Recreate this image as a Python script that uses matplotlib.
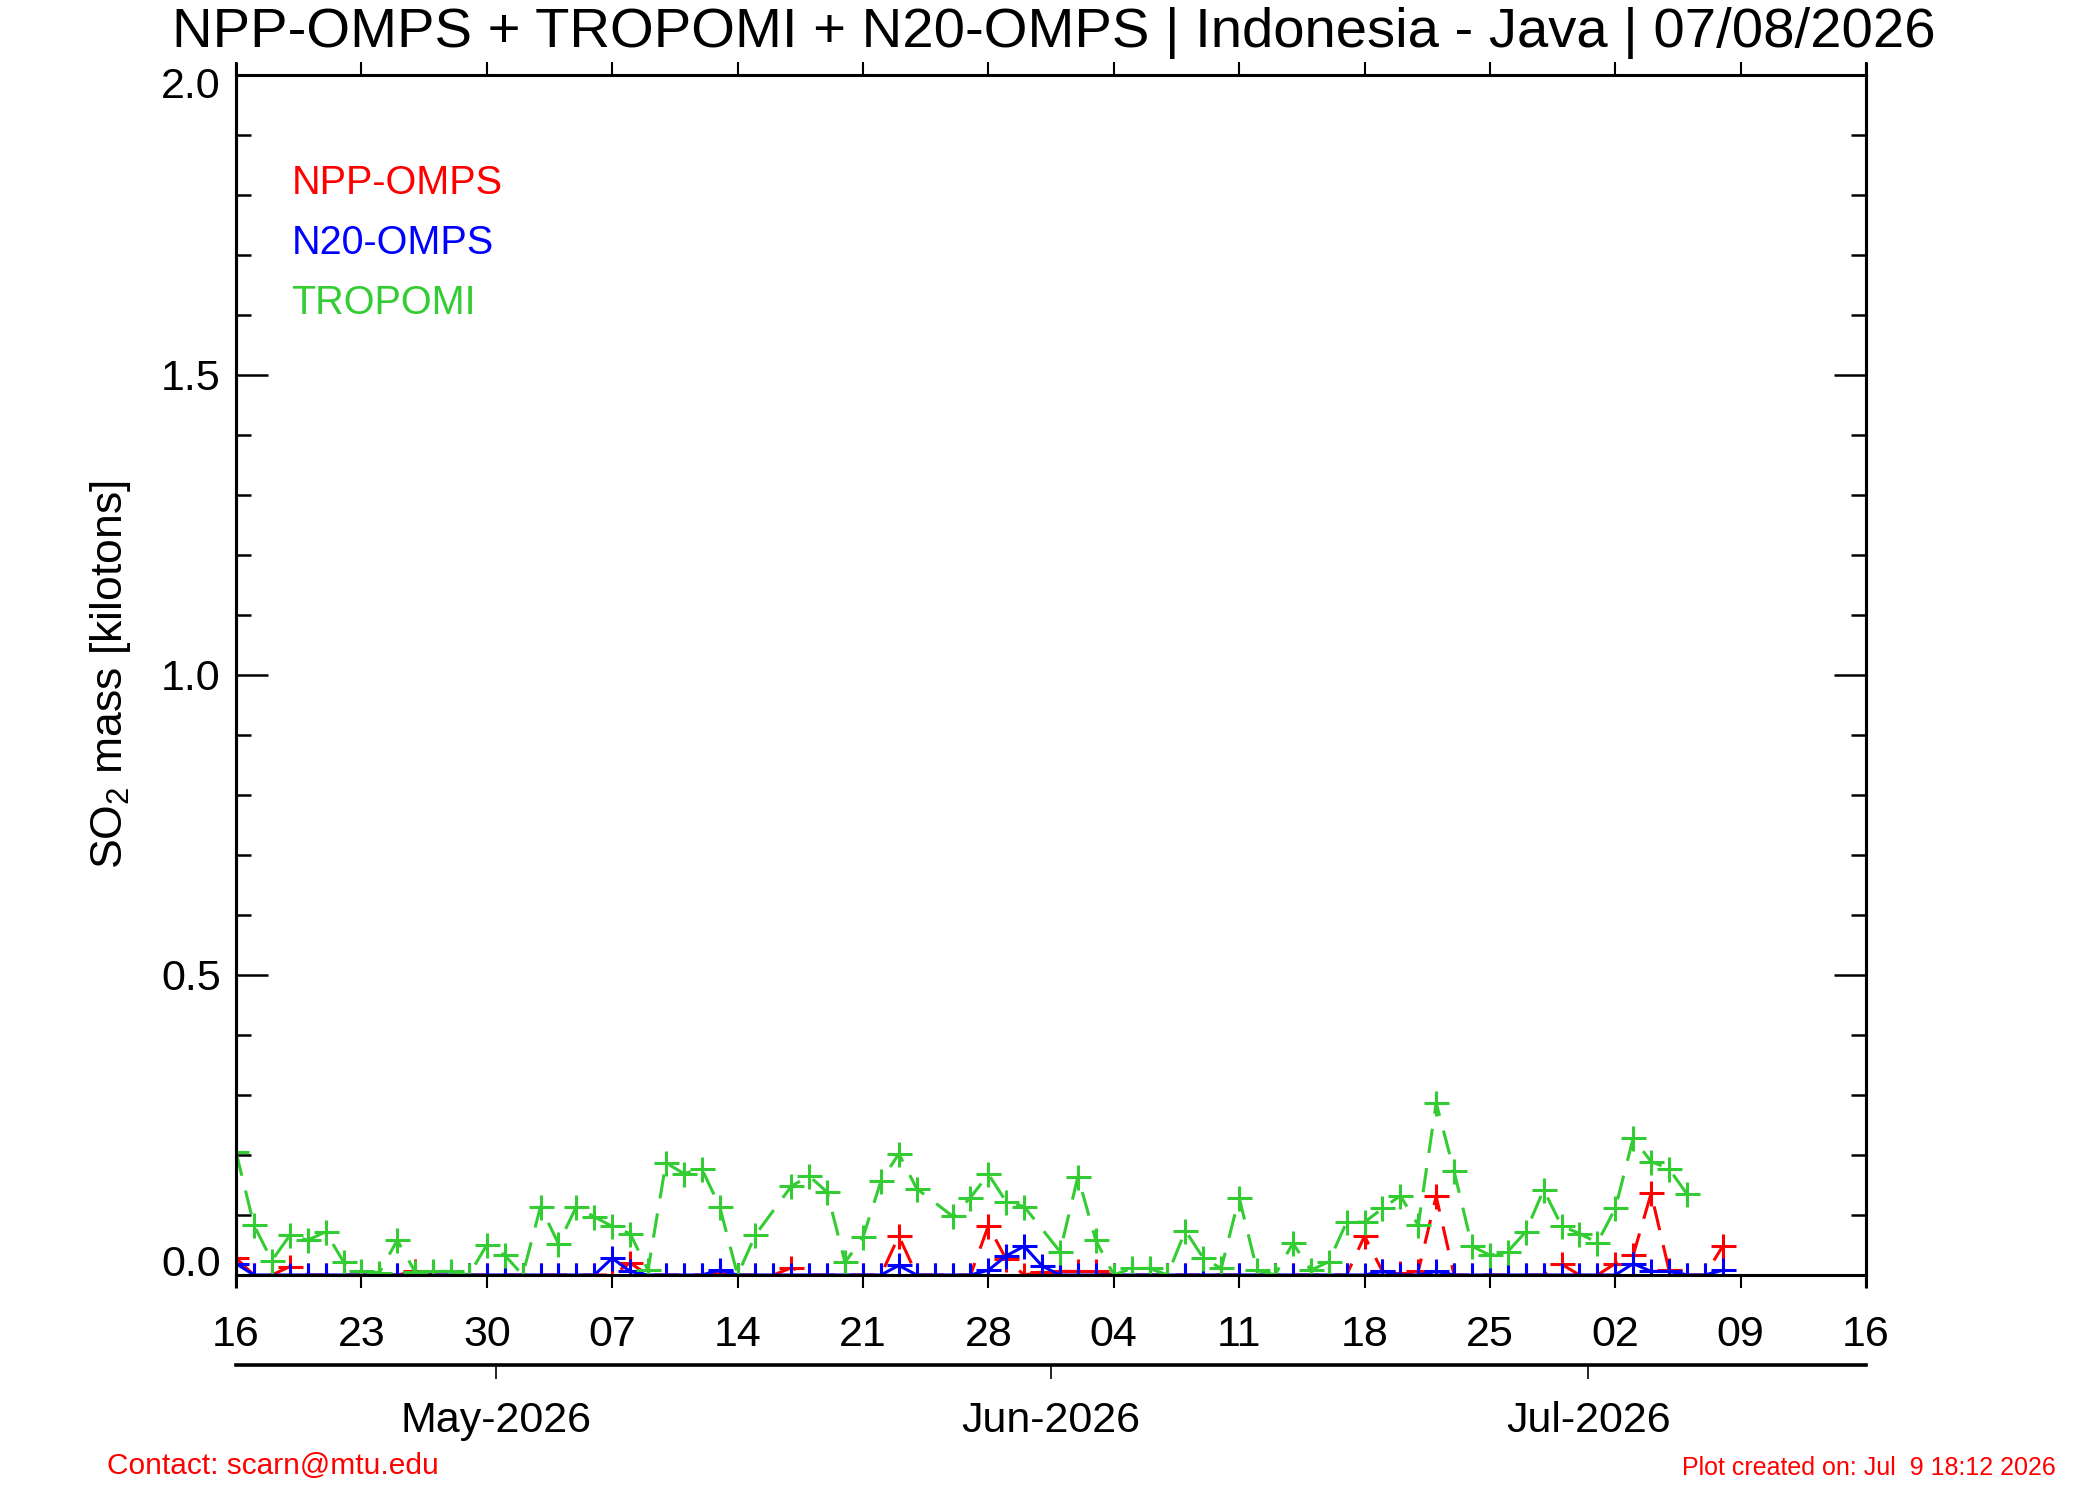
import datetime as dt
import matplotlib
matplotlib.use("Agg")
import matplotlib.pyplot as plt
import matplotlib.dates as mdates
from matplotlib.ticker import FixedLocator, MultipleLocator, FormatStrFormatter
from matplotlib.transforms import ScaledTranslation

plt.rcParams["font.family"] = ["Liberation Sans", "DejaVu Sans"]
plt.rcParams["mathtext.fontset"] = "custom"
plt.rcParams["mathtext.rm"] = "Liberation Sans"

# days counted from 16 Apr 2026, SO2 mass in kilotons
t0 = dt.datetime(2026, 4, 16, 12)
n_days = 91

npp_day = list(range(84))
npp_so2 = [0.028, 0, 0, 0.014, 0, 0, 0, 0, 0, 0,
           0.006, 0, 0, 0, 0, 0, 0, 0, 0, 0,
           0, 0, 0.02, 0, 0, 0, 0, 0.005, 0, 0,
           0, 0.012, 0, 0, 0, 0, 0, 0.065, 0, 0,
           0, 0, 0.082, 0.026, 0, 0.005, 0.006, 0.006, 0.006, 0,
           0, 0, 0, 0, 0, 0, 0, 0, 0, 0,
           0, 0, 0, 0.065, 0.006, 0.004, 0.006, 0.131, 0, 0,
           0, 0, 0, 0, 0.018, 0, 0, 0.019, 0.033, 0.136,
           0.008, 0, 0, 0.048]

n20_day = list(range(84))
n20_so2 = [0.019, 0, 0, 0, 0, 0, 0, 0, 0, 0,
           0, 0, 0, 0, 0, 0, 0, 0, 0, 0,
           0, 0.028, 0.006, 0, 0, 0, 0, 0.008, 0, 0,
           0, 0, 0, 0, 0, 0, 0, 0.016, 0, 0,
           0, 0, 0.008, 0.032, 0.048, 0.015, 0, 0, 0, 0,
           0, 0, 0, 0, 0, 0, 0, 0, 0, 0,
           0, 0, 0, 0, 0.006, 0, 0, 0.006, 0, 0,
           0, 0, 0, 0, 0, 0, 0, 0, 0.019, 0.006,
           0.006, 0, 0, 0.008]

tropomi_day = [0, 1, 2, 3, 4, 5, 6, 7, 8, 9,
               10, 11, 12, 13, 14, 15, 16, 17, 18, 19,
               20, 21, 22, 23, 24, 25, 26, 27, 28, 29,
               31, 32, 33, 34, 35, 36, 37, 38, 40, 41,
               42, 43, 44, 46, 47, 48, 49, 50, 51, 52,
               53, 54, 55, 56, 57, 58, 59, 60, 61, 62,
               63, 64, 65, 66, 67, 68, 69, 70, 71, 72,
               73, 74, 75, 76, 77, 78, 79, 80, 81]
tropomi_so2 = [0.205, 0.083, 0.024, 0.066, 0.058, 0.072, 0.022, 0.006, 0.004, 0.058,
               0.005, 0.006, 0.006, 0.0, 0.05, 0.033, 0.0, 0.114, 0.052, 0.114,
               0.097, 0.081, 0.069, 0.008, 0.187, 0.169, 0.177, 0.114, 0.0, 0.067,
               0.148, 0.165, 0.138, 0.021, 0.063, 0.156, 0.202, 0.144, 0.098, 0.129,
               0.168, 0.122, 0.114, 0.039, 0.164, 0.058, 0.0, 0.011, 0.011, 0.0,
               0.074, 0.028, 0.011, 0.129, 0.008, 0.0, 0.053, 0.008, 0.022, 0.088,
               0.088, 0.111, 0.132, 0.083, 0.287, 0.173, 0.048, 0.033, 0.039, 0.072,
               0.142, 0.082, 0.069, 0.054, 0.111, 0.228, 0.189, 0.177, 0.135]

legend_names = ["NPP-OMPS", "N20-OMPS", "TROPOMI"]
legend_y = [1.82, 1.72, 1.62]
month_starts = [dt.datetime(2026, 5, 1), dt.datetime(2026, 6, 1), dt.datetime(2026, 7, 1)]

RED, BLUE, GREEN = "#ff0000", "#0000ff", "#33cc33"


def to_dates(days):
    return [t0 + dt.timedelta(days=d) for d in days]


fig = plt.figure(figsize=(21, 15), dpi=100)
ax = fig.add_axes([0.1124, 0.15, 0.7762, 0.8])

style = dict(marker="+", markersize=18, markeredgewidth=2.2, linewidth=2.2)
ax.plot(to_dates(npp_day), npp_so2, color=RED, linestyle=(0, (8, 5)), **style)
ax.plot(to_dates(n20_day), n20_so2, color=BLUE, linestyle="-", **style)
ax.plot(to_dates(tropomi_day), tropomi_so2, color=GREEN, linestyle=(0, (8, 5)), **style)

ax.set_xlim(t0, t0 + dt.timedelta(days=n_days))
ax.set_ylim(0, 2.0)

week_ticks = to_dates(range(0, n_days + 1, 7))
ax.xaxis.set_major_locator(FixedLocator(mdates.date2num(week_ticks)))
ax.xaxis.set_major_formatter(mdates.DateFormatter("%d"))
ax.tick_params(axis="x", which="major", direction="out", length=9.5, width=1.5,
               top=True, labeltop=False, labelsize=31, pad=19)

ax.yaxis.set_major_locator(FixedLocator([0.0, 0.5, 1.0, 1.5, 2.0]))
ax.yaxis.set_minor_locator(MultipleLocator(0.1))
ax.yaxis.set_major_formatter(FormatStrFormatter("%.1f"))
ax.tick_params(axis="y", which="major", direction="in", length=23, width=1.8,
               right=True, labelsize=31, pad=11)
ax.tick_params(axis="y", which="minor", direction="in", length=11, width=1.8, right=True)

for sp in ax.spines.values():
    sp.set_linewidth(2.2)

# vertical frame lines run past the y range, as in the original
ext = 13 / 1200
for xpos in (0, 1):
    ax.plot([xpos, xpos], [-ext, 1 + ext], transform=ax.transAxes, clip_on=False,
            color="black", lw=2.2, solid_capstyle="butt")

ylabels = ax.get_yticklabels()
ylabels[0].set_transform(ylabels[0].get_transform()
                         + ScaledTranslation(0, 0.14, fig.dpi_scale_trans))
ylabels[-1].set_transform(ylabels[-1].get_transform()
                          + ScaledTranslation(0, -0.07, fig.dpi_scale_trans))

for name, y, c in zip(legend_names, legend_y, [RED, BLUE, GREEN]):
    ax.text(0.034, y, name, color=c, fontsize=28.5, va="center",
            transform=ax.get_yaxis_transform())

# month axis below the day axis
ax2 = fig.add_axes([0.1124, 0.09, 0.7762, 0.001])
ax2.set_xlim(ax.get_xlim())
ax2.patch.set_visible(False)
for side in ("top", "left", "right"):
    ax2.spines[side].set_visible(False)
ax2.spines["bottom"].set_linewidth(2.6)
ax2.set_yticks([])
ax2.xaxis.set_major_locator(FixedLocator(mdates.date2num(month_starts)))
ax2.xaxis.set_major_formatter(mdates.DateFormatter("%b-%Y"))
ax2.tick_params(axis="x", direction="out", length=10, width=1.2, labelsize=31, pad=16)

fig.text(0.502, 0.978, "NPP-OMPS + TROPOMI + N20-OMPS | Indonesia - Java | 07/08/2026",
         ha="center", va="center", fontsize=40.5)
fig.text(0.0524, 0.55, "SO$_2$ mass [kilotons]", rotation=90,
         ha="center", va="center", fontsize=32)
fig.text(107 / 2100, 0.0227, "Contact: scarn@mtu.edu", color=RED, fontsize=21.5,
         ha="left", va="center")
fig.text(0.979, 0.0213, "Plot created on: Jul  9 18:12 2026", color=RED, fontsize=18,
         ha="right", va="center")

fig.savefig("out.png", dpi=100)
